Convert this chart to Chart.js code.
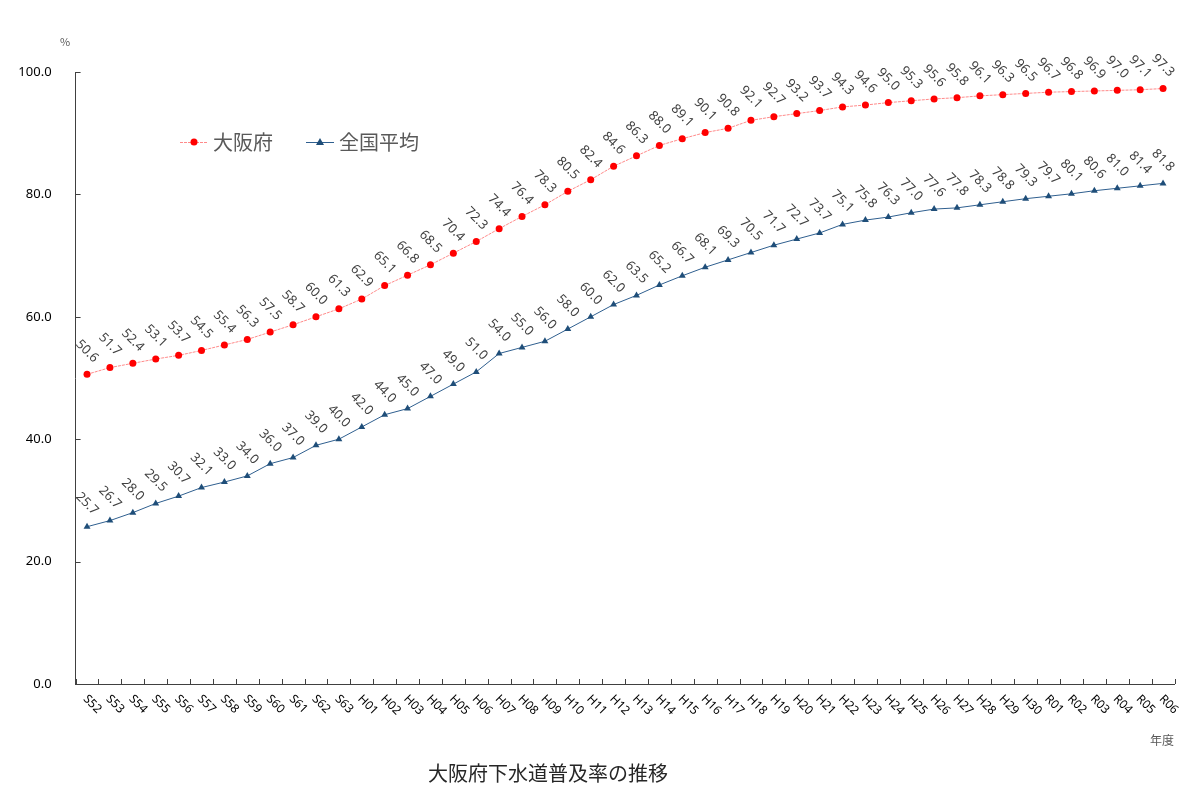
<!DOCTYPE html>
<html lang="ja">
<head>
  <meta charset="UTF-8">
  <title>大阪府下水道普及率の推移</title>
  <style>
    body { margin: 0; background: #fff; }
    .wrap { position: relative; width: 1200px; height: 799px; font-family: "Noto Sans CJK JP", sans-serif; }
    .unit { position: absolute; left: 60px; top: 33px; font-size: 11px; color: #595959; }
    .xname { position: absolute; left: 1150px; top: 731px; font-size: 12px; color: #595959; }
    .title { position: absolute; left: 0; width: 1096px; top: 758px; text-align: center; font-size: 20px; color: #262626; }
  </style>
  <script src="https://cdn.jsdelivr.net/npm/chart.js"></script>
</head>
<body>
  <div class="wrap">
    <canvas id="chart" width="1200" height="799"></canvas>
    <div class="unit">%</div>
    <div class="xname">年度</div>
    <div class="title">大阪府下水道普及率の推移</div>
  </div>
  <script>
    // 年度
    const years = [
      'S52','S53','S54','S55','S56','S57','S58','S59','S60','S61','S62','S63',
      'H01','H02','H03','H04','H05','H06','H07','H08','H09','H10','H11','H12','H13','H14','H15',
      'H16','H17','H18','H19','H20','H21','H22','H23','H24','H25','H26','H27','H28','H29','H30',
      'R01','R02','R03','R04','R05','R06'
    ];
    // 大阪府
    const osaka = [
      50.6,51.7,52.4,53.1,53.7,54.5,55.4,56.3,57.5,58.7,60.0,61.3,
      62.9,65.1,66.8,68.5,70.4,72.3,74.4,76.4,78.3,80.5,82.4,84.6,86.3,88.0,89.1,
      90.1,90.8,92.1,92.7,93.2,93.7,94.3,94.6,95.0,95.3,95.6,95.8,96.1,96.3,96.5,
      96.7,96.8,96.9,97.0,97.1,97.3
    ];
    // 全国平均
    const national = [
      25.7,26.7,28.0,29.5,30.7,32.1,33.0,34.0,36.0,37.0,39.0,40.0,
      42.0,44.0,45.0,47.0,49.0,51.0,54.0,55.0,56.0,58.0,60.0,62.0,63.5,65.2,66.7,
      68.1,69.3,70.5,71.7,72.7,73.7,75.1,75.8,76.3,77.0,77.6,77.8,78.3,78.8,79.3,
      79.7,80.1,80.6,81.0,81.4,81.8
    ];
    const yTicks = [0, 20, 40, 60, 80, 100];

    const FONT = '"Noto Sans CJK JP", sans-serif';
    const NUMFONT = '"Noto Sans", sans-serif';
    const AXIS = '#404040';

    // 値ラベル・x軸ラベル・目盛・凡例
    const extras = {
      id: 'extras',
      afterDatasetsDraw(chart) {
        const ctx = chart.ctx;
        ctx.save();
        ctx.font = '13px ' + NUMFONT;
        ctx.fillStyle = '#404040';
        ctx.textAlign = 'center';
        ctx.textBaseline = 'middle';
        chart.data.datasets.forEach((ds, di) => {
          chart.getDatasetMeta(di).data.forEach((pt, i) => {
            ctx.save();
            ctx.translate(pt.x, pt.y - 23);
            ctx.rotate(Math.PI / 4);
            ctx.fillText(ds.data[i].toFixed(1), 0, 0);
            ctx.restore();
          });
        });
        ctx.restore();
      },
      afterDraw(chart) {
        const ctx = chart.ctx;
        const x = chart.scales.x, y = chart.scales.y;
        const area = chart.chartArea;
        ctx.save();
        // 目盛（内向き）
        ctx.strokeStyle = AXIS;
        ctx.lineWidth = 1;
        ctx.beginPath();
        yTicks.forEach(v => {
          const py = Math.round(y.getPixelForValue(v)) + 0.5;
          ctx.moveTo(area.left, py); ctx.lineTo(area.left + 5, py);
        });
        const step = x.getPixelForValue(1) - x.getPixelForValue(0);
        for (let i = 0; i <= years.length; i++) {
          const px = Math.round(x.getPixelForValue(i) - step / 2) + 0.5;
          ctx.moveTo(px, area.bottom); ctx.lineTo(px, area.bottom - 5);
        }
        ctx.stroke();
        // x軸ラベル
        ctx.font = '12px ' + NUMFONT;
        ctx.fillStyle = '#000';
        ctx.textAlign = 'left';
        ctx.textBaseline = 'middle';
        years.forEach((lab, i) => {
          ctx.save();
          ctx.translate(x.getPixelForValue(i) - 2, area.bottom + 13);
          ctx.rotate(Math.PI / 4);
          ctx.fillText(lab, 0, 0);
          ctx.restore();
        });
        // 凡例
        const items = [
          { ds: chart.data.datasets[0], x0: 180 },
          { ds: chart.data.datasets[1], x0: 306 }
        ];
        const ly = 142;
        ctx.font = '20px ' + FONT;
        items.forEach(it => {
          ctx.strokeStyle = it.ds.borderColor;
          ctx.setLineDash(it.ds.borderDash || []);
          ctx.beginPath();
          ctx.moveTo(it.x0, ly + 0.5); ctx.lineTo(it.x0 + 28, ly + 0.5);
          ctx.stroke();
          ctx.setLineDash([]);
          ctx.fillStyle = it.ds.pointBackgroundColor;
          ctx.beginPath();
          if (it.ds.pointStyle === 'triangle') {
            ctx.moveTo(it.x0 + 14, ly - 4); ctx.lineTo(it.x0 + 18, ly + 3); ctx.lineTo(it.x0 + 10, ly + 3);
            ctx.closePath();
          } else {
            ctx.arc(it.x0 + 14, ly, 3.5, 0, Math.PI * 2);
          }
          ctx.fill();
          ctx.fillStyle = '#595959';
          ctx.fillText(it.ds.label, it.x0 + 33, ly);
        });
        ctx.restore();
      }
    };

    new Chart(document.getElementById('chart'), {
      type: 'line',
      data: {
        labels: years,
        datasets: [
          {
            label: '大阪府',
            data: osaka,
            borderColor: 'rgba(255,60,60,0.6)',
            borderWidth: 1,
            borderDash: [3, 1],
            pointStyle: 'circle',
            pointRadius: 3.5,
            pointBackgroundColor: '#ff0000',
            pointBorderColor: '#ff0000',
            pointBorderWidth: 0,
            tension: 0
          },
          {
            label: '全国平均',
            data: national,
            borderColor: '#2f5f8f',
            borderWidth: 1,
            pointStyle: 'triangle',
            pointRadius: 4,
            pointBackgroundColor: '#1f4e79',
            pointBorderColor: '#1f4e79',
            pointBorderWidth: 0,
            tension: 0
          }
        ]
      },
      options: {
        responsive: false,
        animation: false,
        layout: { padding: { top: 72, right: 25.5, left: 0, bottom: 0 } },
        plugins: { legend: { display: false }, tooltip: { enabled: false } },
        scales: {
          x: {
            type: 'category',
            offset: true,
            grid: { display: false },
            border: { display: true, color: AXIS, width: 1 },
            ticks: { display: false },
            afterFit: s => { s.height = 115; }
          },
          y: {
            min: 0,
            max: 100,
            grid: { display: false },
            border: { display: true, color: AXIS, width: 1 },
            afterBuildTicks: s => { s.ticks = yTicks.map(v => ({ value: v })); },
            ticks: {
              padding: 16,
              color: '#000',
              font: { size: 13, family: NUMFONT },
              callback: v => Number(v).toFixed(1)
            },
            afterFit: s => { s.width = 75.6; }
          }
        }
      },
      plugins: [extras]
    });
  </script>
</body>
</html>
